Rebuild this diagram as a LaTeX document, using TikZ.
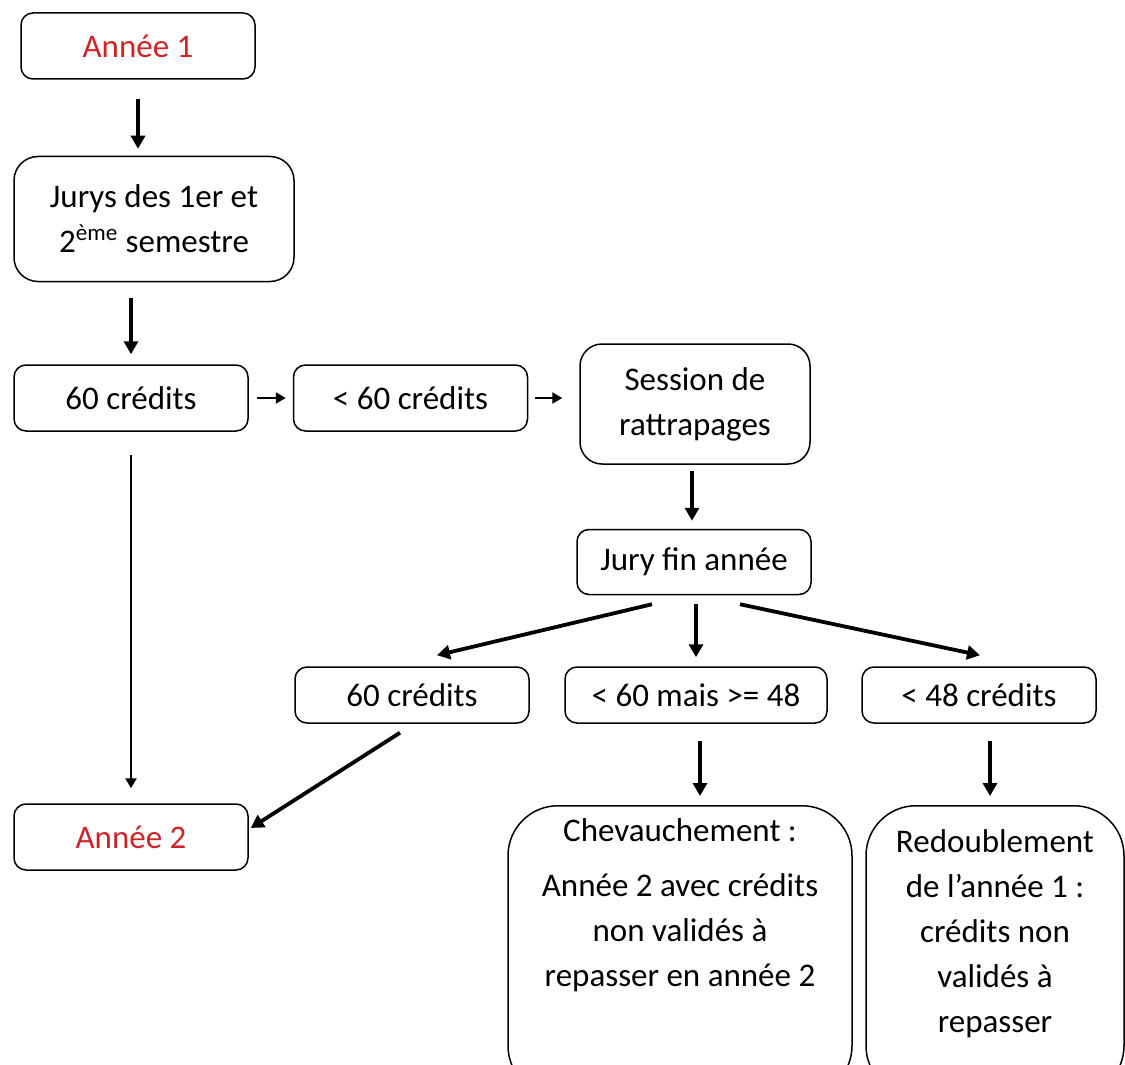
\documentclass[tikz,border=0pt]{standalone}
\usepackage{fontspec}
\setmainfont{Carlito}
\usetikzlibrary{arrows.meta, positioning, calc}

\definecolor{anred}{RGB}{206,36,40}

\begin{document}
\begin{tikzpicture}[x=0.5pt,y=-0.5pt,
        font=\fontsize{16.5}{22.5}\selectfont,
        box/.style={draw, line width=0.75pt, rounded corners=6pt, align=center,
          minimum width=117pt, minimum height=33pt, inner sep=2pt},
        bigbox/.style={box, rounded corners=25pt, minimum height=145pt, anchor=north},
        arr/.style={-{Triangle[length=6.5pt,width=7pt]}, line width=1.9pt},
        thinarr/.style={-{Triangle[length=5pt,width=5.5pt]}, line width=1.3pt}]
        \useasboundingbox (0,0) rectangle (1125,1065);
        \clip (0,0) rectangle (1125,1065);

        \node[box, text=anred] (a1) at (138,46) {Année 1};
        \node[box, minimum width=140pt, minimum height=62.5pt, rounded corners=12pt] (jurys) at (154,219)
          {Jurys des 1er et\\2\textsuperscript{ème} semestre};
        \node[box] (c60) at (131,398) {60 crédits};
        \node[box] (lt60) [right=22pt of c60] {< 60 crédits};
        \node[box, minimum width=115pt, minimum height=60pt, rounded corners=11pt] (sess) at (695,404)
          {Session de\\rattrapages};
        \node[box, minimum height=32.5pt] (jfin) at (694,562) {Jury fin année};
        \node[box, minimum height=28pt] (m60) at (412,695) {60 crédits};
        \node[box, minimum width=131pt, minimum height=28pt] (mid) at (696,695) {< 60 mais >= 48};
        \node[box, minimum height=28pt] (lt48) at (979,695) {< 48 crédits};
        \node[box, text=anred] (a2) at (131,837) {Année 2};
        \node[bigbox, minimum width=172pt] (chev) at (680,805) {};
        \node[bigbox, minimum width=129pt] (redo) at (995,805) {};

        % texts of the two big boxes
        \node[align=center, anchor=north] (chevtxt) at ($(chev.north)+(0,7)$)
          {Chevauchement :\\[5pt]Année 2 avec crédits\\non validés à\\repasser en année 2};
        \node[align=center, anchor=north] (redotxt) at ($(redo.north)+(0,18)$)
          {Redoublement\\de l’année 1 :\\crédits non\\validés à\\repasser};

        \draw[arr, shorten <=9.5pt, shorten >=3.5pt] (a1.south) -- (a1.south |- jurys.north);
        \draw[arr, shorten <=8pt, shorten >=5pt] (jurys.south -| c60) -- (c60.north);
        \draw[thinarr, shorten <=4pt, shorten >=3.5pt] (c60) -- (lt60);
        \draw[thinarr, shorten <=3.5pt, shorten >=8.5pt] (lt60.east) -- (lt60.east -| sess.west);
        \draw[arr, shorten <=3pt, shorten >=4pt] (sess.south -| 692,0) -- (jfin.north -| 692,0);

        \draw[arr] ($(jfin.south)+(-42,9)$) -- ($(m60.north)+(25,-11)$);
        \draw[arr, shorten <=4.5pt, shorten >=4.5pt] (jfin.south -| mid) -- (mid.north);
        \draw[arr] ($(jfin.south)+(46,9)$) -- ($(lt48.north)+(1,-11)$);

        \draw[thinarr, shorten <=11.5pt, shorten >=7.5pt] (c60.south) -- (a2.north);
        \draw[arr] ($(m60.south)+(-12,9)$) -- ($(a2.east)+(2,-9)$);

        \draw[arr] ($(mid.south)+(4,17)$) -- ($(chev.north)+(20,-9)$);
        \draw[arr] ($(lt48.south)+(11,17)$) -- ($(redo.north)+(-5,-9)$);
      \end{tikzpicture}
\end{document}
